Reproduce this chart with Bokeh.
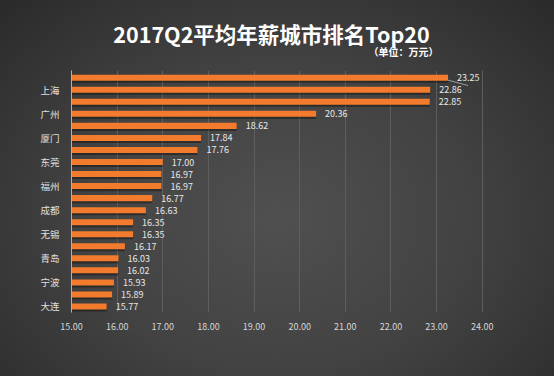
from bokeh.plotting import figure
from bokeh.layouts import column
from bokeh.models import ColumnDataSource, FixedTicker
from bokeh.core.properties import value
from bokeh.embed import file_html
from bokeh.resources import INLINE

# Data (top to bottom)
values = [23.25, 22.86, 22.85, 20.36, 18.62, 17.84, 17.76, 17.00, 16.97, 16.97,
          16.77, 16.63, 16.35, 16.35, 16.17, 16.03, 16.02, 15.93, 15.89, 15.77]
city_labels = ["", "上海", "", "广州", "", "厦门", "", "东莞", "", "福州",
               "", "成都", "", "无锡", "", "青岛", "", "宁波", "", "大连"]
x_ticks = [15, 16, 17, 18, 19, 20, 21, 22, 23, 24]
title_text = "2017Q2平均年薪城市排名Top20"
unit_text = "（单位：万元）"

ranks = list(range(1, len(values) + 1))
src = ColumnDataSource(dict(
    y=ranks,
    ys=[r + 0.17 for r in ranks],
    v=values,
    base=[15] * len(values),
    lbl=["%.2f" % v for v in values],
))

CJK = "Noto Sans CJK SC"
BG = "#3d3d3d"
LEFT, RIGHT = 71, 54

# ---- title strip (data units = pixels) ----
t = figure(width=554, height=70, output_backend="svg", toolbar_location=None,
           x_range=(LEFT, 554 - RIGHT), y_range=(70, 0),
           min_border_left=LEFT, min_border_right=RIGHT, min_border_top=0,
           min_border_bottom=0)
t.axis.visible = False
t.grid.visible = False
t.outline_line_color = None
t.background_fill_alpha = 0
t.border_fill_alpha = 0
t.text(x=[271], y=[33], text=[title_text], text_font=value(CJK),
       text_font_size="21.5px", text_font_style="bold", text_color="#ffffff",
       text_align="center", text_baseline="middle")
t.text(x=[438], y=[51], text=[unit_text], text_font=value(CJK),
       text_font_size="10px", text_font_style="bold", text_color="#ffffff",
       text_align="right", text_baseline="middle")

# ---- chart ----
p = figure(width=554, height=306, output_backend="svg", toolbar_location=None,
           x_range=(15, 24.4), y_range=(20.5, 0.4),
           min_border_left=LEFT, min_border_right=RIGHT, min_border_top=0,
           min_border_bottom=64)
p.background_fill_alpha = 0
p.border_fill_alpha = 0
p.outline_line_color = None

p.hbar(y="ys", left="base", right="v", height=0.5, source=src,
       fill_color="black", fill_alpha=0.35, line_color=None)
p.hbar(y="y", left="base", right="v", height=0.5, source=src,
       fill_color="#f27b2d", line_color=None)

p.text(x="v", y="y", text="lbl", source=src, x_offset=9,
       text_font=value(CJK), text_font_size="9px", text_color="#e8e8e8",
       text_baseline="middle", text_align="left")

p.segment(x0=[values[0]], y0=[1.2], x1=[values[0] + 0.44], y1=[1.65],
          line_color="#9a9a9a", line_width=1)

p.xaxis.ticker = FixedTicker(ticks=x_ticks)
p.xaxis.major_label_overrides = {t_: "%.2f" % t_ for t_ in x_ticks}
p.xaxis.axis_line_color = None
p.xaxis.major_tick_line_color = None
p.xaxis.minor_tick_line_color = None
p.xaxis.major_label_text_color = "#d8d8d8"
p.xaxis.major_label_text_font = CJK
p.xaxis.major_label_text_font_size = "9px"
p.xaxis.major_label_standoff = 4

p.yaxis.ticker = FixedTicker(ticks=ranks)
p.yaxis.major_label_overrides = {r: c for r, c in zip(ranks, city_labels)}
p.yaxis.axis_line_color = "#b0b0b0"
p.yaxis.major_tick_line_color = None
p.yaxis.minor_tick_line_color = None
p.yaxis.major_label_text_color = "#e0e0e0"
p.yaxis.major_label_text_font = CJK
p.yaxis.major_label_text_font_size = "9.5px"
p.yaxis.major_label_standoff = 6

p.xgrid.grid_line_color = "#5e5e5e"
p.xgrid.ticker = FixedTicker(ticks=x_ticks[1:])
p.ygrid.grid_line_color = None

layout = column(t, p, spacing=0)
html = file_html(layout, INLINE)
css = ("<style>html,body{margin:0;width:554px;height:376px;background-color:%s;"
       "background-image:radial-gradient(ellipse farthest-corner at 50%% 58%%,"
       "#505050 0%%,#424242 50%%,#2a2a2a 100%%);}</style>") % BG
html = html.replace("<head>", "<head>" + css, 1)
open("out.html", "w").write(html)
